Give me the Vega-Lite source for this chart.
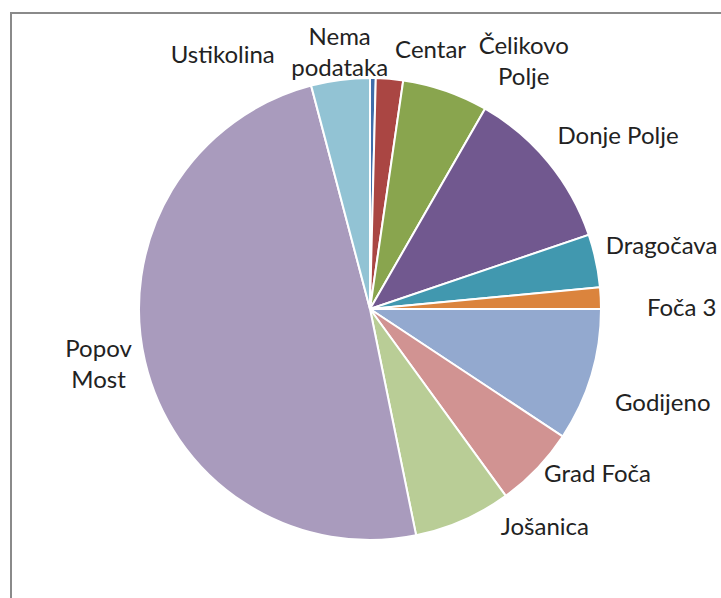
{
  "$schema": "https://vega.github.io/schema/vega-lite/v6.json",
  "width": 718,
  "height": 592,
  "padding": {"left": 11, "top": 13, "right": 0, "bottom": 0},
  "autosize": {"type": "none"},
  "background": "white",
  "view": {"stroke": "#8a8a8a", "strokeWidth": 2},
  "data": {
    "values": [
      {"rank": 1, "region": "Nema podataka", "label": "Nema\npodataka", "value": 0.4},
      {"rank": 2, "region": "Centar", "label": "Centar", "value": 1.9},
      {"rank": 3, "region": "Čelikovo Polje", "label": "Čelikovo\nPolje", "value": 6.0},
      {"rank": 4, "region": "Donje Polje", "label": "Donje Polje", "value": 11.5},
      {"rank": 5, "region": "Dragočava", "label": "Dragočava", "value": 3.7},
      {"rank": 6, "region": "Foča 3", "label": "Foča 3", "value": 1.5},
      {"rank": 7, "region": "Godijeno", "label": "Godijeno", "value": 9.3},
      {"rank": 8, "region": "Grad Foča", "label": "Grad Foča", "value": 5.7},
      {"rank": 9, "region": "Jošanica", "label": "Jošanica", "value": 6.8},
      {"rank": 10, "region": "Popov Most", "label": "Popov\nMost", "value": 49.1},
      {"rank": 11, "region": "Ustikolina", "label": "Ustikolina", "value": 4.1}
    ]
  },
  "encoding": {
    "theta": {"field": "value", "type": "quantitative", "stack": true},
    "order": {"field": "rank", "type": "quantitative"}
  },
  "layer": [
    {
      "mark": {"type": "arc", "outerRadius": 231, "stroke": "white", "strokeWidth": 2},
      "encoding": {
        "color": {
          "field": "region",
          "type": "nominal",
          "legend": null,
          "scale": {
            "domain": ["Nema podataka", "Centar", "Čelikovo Polje", "Donje Polje", "Dragočava", "Foča 3", "Godijeno", "Grad Foča", "Jošanica", "Popov Most", "Ustikolina"],
            "range": ["#3F6DAA", "#AA4643", "#89A54E", "#71588F", "#4198AF", "#DB843D", "#93A9CF", "#D19392", "#B9CD96", "#A99BBD", "#92C3D4"]
          }
        }
      }
    },
    {
      "mark": {
        "type": "text",
        "radius": 290,
        "font": "Lato",
        "fontSize": 24,
        "fill": "#222222",
        "lineBreak": "\n",
        "lineHeight": 31,
        "align": "center",
        "baseline": "middle",
        "dx": {"expr": "datum.region == 'Nema podataka' ? -34 : datum.region == 'Centar' ? 36 : datum.region == 'Čelikovo Polje' ? 59 : datum.region == 'Donje Polje' ? 24 : datum.region == 'Dragočava' ? 8 : datum.region == 'Foča 3' ? 22 : datum.region == 'Godijeno' ? 15 : datum.region == 'Grad Foča' ? 18 : datum.region == 'Jošanica' ? 58 : datum.region == 'Popov Most' ? 11 : datum.region == 'Ustikolina' ? -110 : 4"},
        "dy": {"expr": "datum.region == 'Nema podataka' ? 19 : datum.region == 'Centar' ? 31 : datum.region == 'Čelikovo Polje' ? 12 : datum.region == 'Donje Polje' ? 12 : datum.region == 'Foča 3' ? 14 : datum.region == 'Godijeno' ? 11 : datum.region == 'Grad Foča' ? -35 : datum.region == 'Jošanica' ? -46 : datum.region == 'Popov Most' ? -25 : datum.region == 'Ustikolina' ? 35 : -1"}
      },
      "encoding": {
        "text": {"field": "label"},
        "detail": {"field": "region"}
      }
    }
  ]
}
